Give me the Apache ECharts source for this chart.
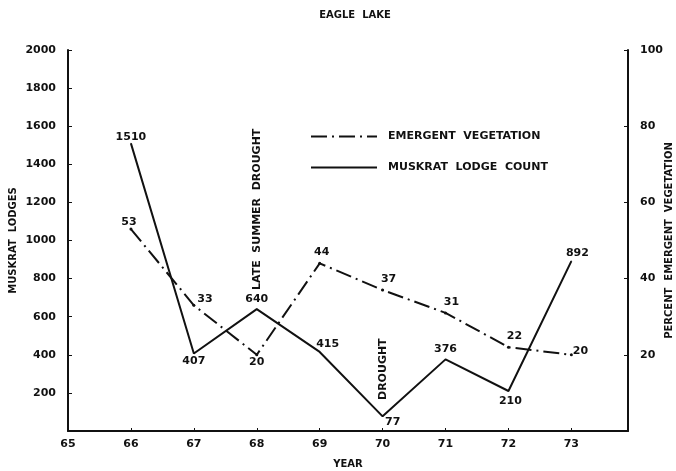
<!DOCTYPE html>
<html>
<head>
<meta charset="utf-8">
<script src="https://cdn.jsdelivr.net/npm/echarts@6/dist/echarts.min.js"></script>
<style>
  html, body { margin: 0; padding: 0; background: #fff; }
  #chart { width: 676px; height: 471px; }
</style>
</head>
<body>
<div id="chart"></div>
<script>
const years = [66, 67, 68, 69, 70, 71, 72, 73]
const lodgeCount = [1510, 407, 640, 415, 77, 376, 210, 892]
const vegetation = [53, 33, 20, 44, 37, 31, 22, 20]

// label placement per point: [position, dx, dy]
const lodgeLabelPos = [
  ['top', 0, 4], ['bottom', 0, -2], ['top', 0, 0], ['top', 8, 2],
  ['right', -2, 6], ['top', 0, 0], ['bottom', 2, 0], ['top', 6, 2]
]
const vegLabelPos = [
  ['top', -2, 4], ['right', -2, -6], ['bottom', 0, -4], ['top', 2, 0],
  ['top', 6, 0], ['top', 6, 0], ['top', 6, 0], ['right', -4, -4]
]

const font = 'DejaVu Sans'
const ink = '#111'

const chart = echarts.init(document.getElementById('chart'))

const makeData = (vals, pos) => vals.map((v, i) => ({
  value: [years[i], v],
  label: { position: pos[i][0], offset: [pos[i][1], pos[i][2]] }
}))

const labelStyle = {
  show: true,
  color: ink,
  fontFamily: font,
  fontSize: 11,
  fontWeight: 'bold',
  distance: 4
}

const tickLabel = { color: ink, fontFamily: font, fontSize: 11, fontWeight: 'bold' }

const option = {
  animation: false,
  backgroundColor: '#fff',
  title: {
    text: 'EAGLE  LAKE',
    left: 350,
    top: 5,
    textAlign: 'center',
    textStyle: { fontFamily: font, fontSize: 10, fontWeight: 'bold', color: ink }
  },
  legend: {
    left: 305,
    top: 126,
    orient: 'vertical',
    itemGap: 20,
    itemWidth: 66,
    itemHeight: 10,
    itemStyle: { opacity: 0 },
    textStyle: { fontFamily: font, fontSize: 11, fontWeight: 'bold', color: ink, padding: [0, 0, 0, 6] },
    data: ['EMERGENT  VEGETATION', 'MUSKRAT  LODGE  COUNT']
  },
  grid: { left: 68, right: 48, top: 50, bottom: 40, outerBoundsMode: 'none' },
  xAxis: {
    type: 'value',
    min: 65,
    max: 73.9,
    interval: 1,
    name: 'YEAR',
    nameLocation: 'middle',
    nameGap: 28,
    nameTextStyle: { fontFamily: font, fontSize: 10, fontWeight: 'bold', color: ink },
    axisLine: { lineStyle: { color: ink, width: 2 } },
    axisTick: { inside: true, length: 3, lineStyle: { color: ink } },
    axisLabel: Object.assign({}, tickLabel, {
      margin: 8,
      showMaxLabel: false,
      formatter: v => (v > 73 ? '' : String(v))
    }),
    splitLine: { show: false }
  },
  yAxis: [
    {
      type: 'value',
      min: 0,
      max: 2000,
      interval: 200,
      name: 'MUSKRAT  LODGES',
      nameLocation: 'middle',
      nameGap: 50,
      nameMoveOverlap: false,
      nameTextStyle: { fontFamily: font, fontSize: 10, fontWeight: 'bold', color: ink },
      axisLine: { show: true, lineStyle: { color: ink, width: 2 } },
      axisTick: { show: true, inside: true, length: 4, lineStyle: { color: ink } },
      axisLabel: Object.assign({}, tickLabel, { margin: 12, showMinLabel: false, formatter: v => String(v) }),
      splitLine: { show: false }
    },
    {
      type: 'value',
      min: 0,
      max: 100,
      interval: 20,
      position: 'right',
      name: 'PERCENT  EMERGENT  VEGETATION',
      nameLocation: 'middle',
      nameGap: 36,
      nameMoveOverlap: false,
      nameTextStyle: { fontFamily: font, fontSize: 10, fontWeight: 'bold', color: ink },
      axisLine: { show: true, lineStyle: { color: ink, width: 2 } },
      axisTick: { show: true, inside: true, length: 4, lineStyle: { color: ink } },
      axisLabel: Object.assign({}, tickLabel, { margin: 12, showMinLabel: false, formatter: v => String(v) }),
      splitLine: { show: false }
    }
  ],
  graphic: [
    {
      type: 'text',
      x: 252,
      y: 290,
      rotation: Math.PI / 2,
      style: { text: 'LATE  SUMMER  DROUGHT', font: 'bold 11px "DejaVu Sans"', fill: ink }
    },
    {
      type: 'text',
      x: 378,
      y: 400,
      rotation: Math.PI / 2,
      style: { text: 'DROUGHT', font: 'bold 11px "DejaVu Sans"', fill: ink }
    }
  ],
  series: [
    {
      name: 'EMERGENT  VEGETATION',
      type: 'line',
      yAxisIndex: 1,
      symbol: 'circle',
      symbolSize: 3,
      itemStyle: { color: ink },
      lineStyle: { color: ink, width: 2, type: [16, 5, 2, 5] },
      label: labelStyle,
      data: makeData(vegetation, vegLabelPos)
    },
    {
      name: 'MUSKRAT  LODGE  COUNT',
      type: 'line',
      yAxisIndex: 0,
      symbol: 'circle',
      symbolSize: 1,
      itemStyle: { color: ink },
      lineStyle: { color: ink, width: 2 },
      label: labelStyle,
      data: makeData(lodgeCount, lodgeLabelPos)
    }
  ]
}

chart.setOption(option)
window.addEventListener('resize', () => chart.resize())
</script>
</body>
</html>
